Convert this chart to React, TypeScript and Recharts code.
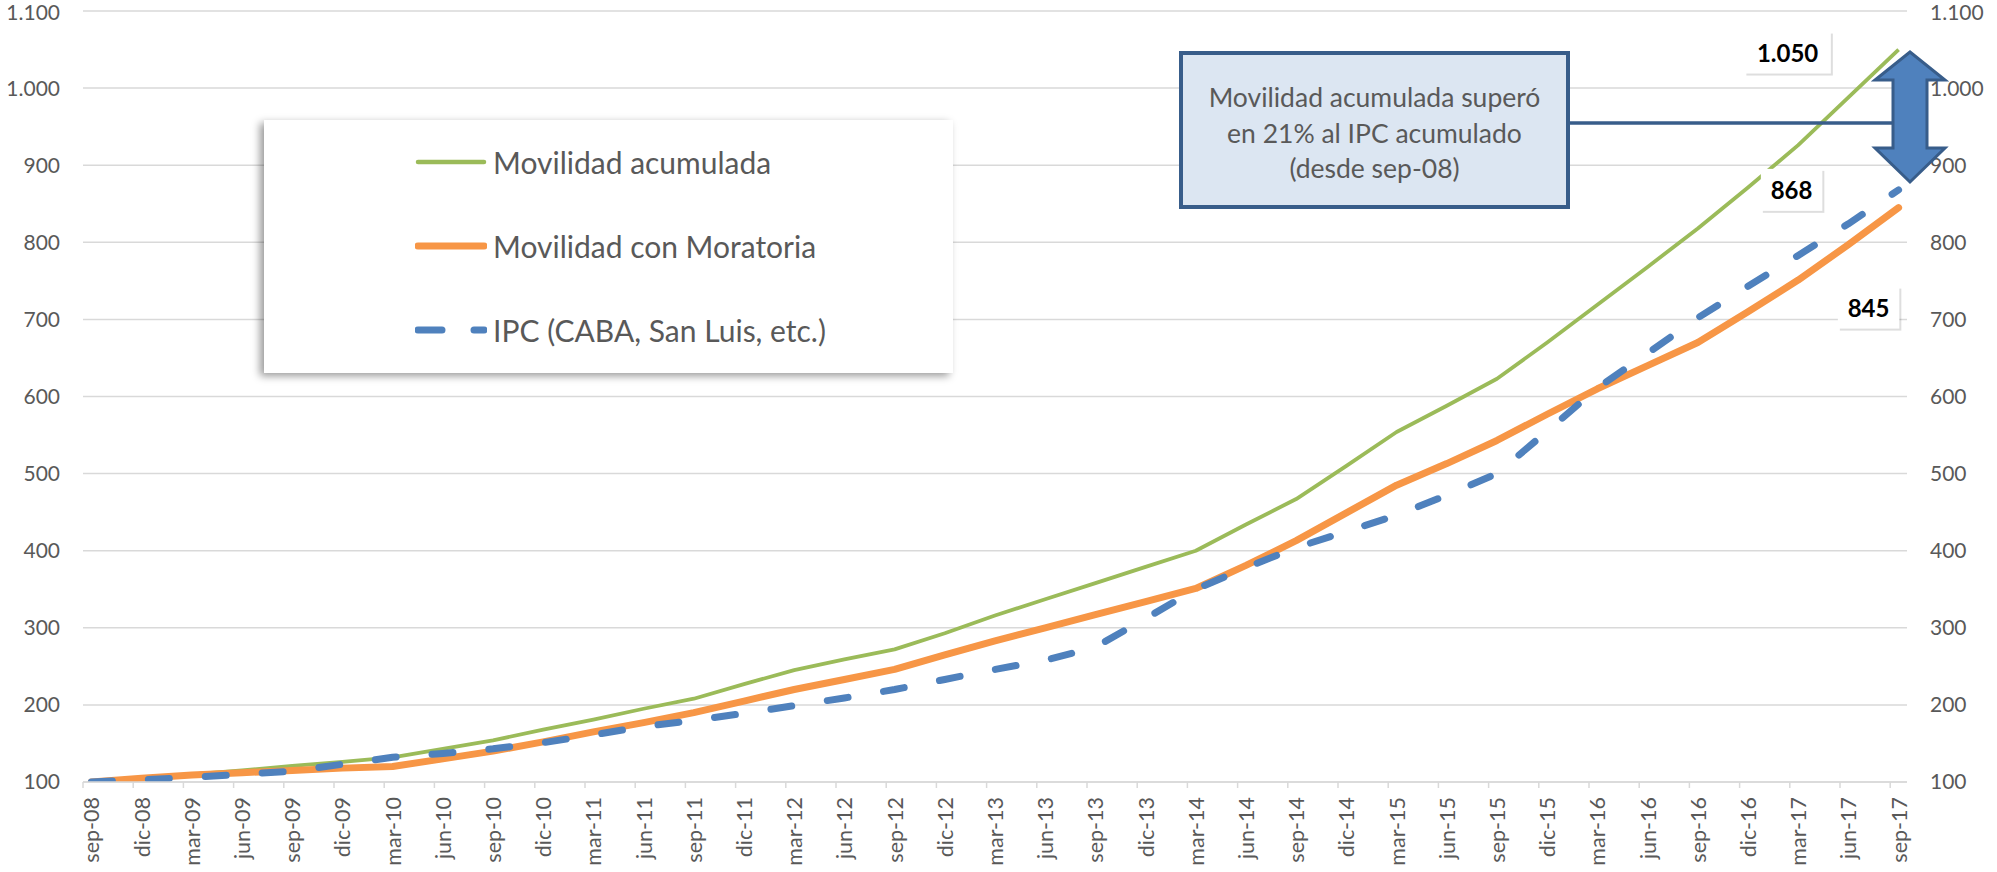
import React from 'react';
import { LineChart, Line, XAxis, YAxis, CartesianGrid, Legend, LabelList } from 'recharts';

// trimestres (eje X)
const MESES = [
  'sep-08', 'dic-08', 'mar-09', 'jun-09', 'sep-09', 'dic-09', 'mar-10', 'jun-10', 'sep-10', 'dic-10',
  'mar-11', 'jun-11', 'sep-11', 'dic-11', 'mar-12', 'jun-12', 'sep-12', 'dic-12', 'mar-13', 'jun-13',
  'sep-13', 'dic-13', 'mar-14', 'jun-14', 'sep-14', 'dic-14', 'mar-15', 'jun-15', 'sep-15', 'dic-15',
  'mar-16', 'jun-16', 'sep-16', 'dic-16', 'mar-17', 'jun-17', 'sep-17',
];

const MOVILIDAD = [
  100, 105, 110, 115, 121, 126, 132, 143, 154, 168,
  181, 195, 208, 227, 245, 259, 272, 293, 316, 337,
  358, 379, 400, 434, 467, 510, 554, 588, 623, 670,
  719, 768, 818, 871, 926, 988, 1050,
];

const MORATORIA = [
  100, 105, 109, 112, 115, 118, 120, 130, 140, 152,
  165, 177, 190, 205, 220, 233, 246, 265, 283, 300,
  317, 334, 351, 381, 413, 449, 485, 513, 543, 577,
  610, 640, 670, 710, 751, 797, 845,
];

const IPC = [
  100, 103, 106, 110, 114, 123, 132, 137, 143, 151,
  161, 172, 180, 189, 199, 209, 220, 233, 246, 258,
  275, 312, 350, 378, 404, 425, 446, 472, 500, 555,
  611, 656, 702, 743, 783, 824, 868,
];

const Y_TICKS = [100, 200, 300, 400, 500, 600, 700, 800, 900, 1000, 1100];

const SERIES = [
  { key: 'movilidad', name: 'Movilidad acumulada', color: '#9BBB59', width: 3.8, dash: undefined, legendWidth: 4.5, legendDash: undefined },
  { key: 'moratoria', name: 'Movilidad con Moratoria', color: '#F79646', width: 7, dash: undefined, legendWidth: 7, legendDash: undefined },
  { key: 'ipc', name: 'IPC (CABA, San Luis, etc.)', color: '#4F81BD', width: 7, dash: '21 36', legendWidth: 7, legendDash: '24 32' },
];

const data = MESES.map((mes, i) => ({
  mes,
  movilidad: MOVILIDAD[i],
  moratoria: MORATORIA[i],
  ipc: IPC[i],
}));

const FONT = 'Lato, "Open Sans", sans-serif';
const GREY = '#595959';
const GRID = '#D9D9D9';
const HALF_CAT = 8.4;

const fmt = (v: number) =>
  v >= 1000 ? `${Math.floor(v / 1000)}.${String(v % 1000).padStart(3, '0')}` : `${v}`;

const MonthTick = (props: any) => {
  const { x, y, payload } = props;
  const ty = y + 15;
  return (
    <g>
      <line x1={x - HALF_CAT} x2={x - HALF_CAT} y1={y} y2={y + 6} stroke={GRID} strokeWidth={1.5} />
      <text
        x={x}
        y={ty}
        transform={`rotate(-90 ${x} ${ty})`}
        textAnchor="end"
        dominantBaseline="central"
        fontSize={21.5}
        fontFamily={FONT}
        fill={GREY}
      >
        {payload.value}
      </text>
    </g>
  );
};

const endLabel = (dx: number, dy: number, last: number) => (props: any) => {
  const { x, y, value, index } = props;
  const isLast = index !== undefined ? index === data.length - 1 : value === last;
  if (!isLast || x == null) return null;
  const text = fmt(Number(value));
  const w = text.length * 12.5 + 24;
  const h = 42;
  const cx = x + dx;
  const cy = y + dy;
  return (
    <g>
      <rect x={cx - w / 2 + 2} y={cy - h / 2 + 2} width={w} height={h} fill="rgba(0,0,0,0.13)" />
      <rect x={cx - w / 2} y={cy - h / 2} width={w} height={h} fill="#fff" />
      <text x={cx} y={cy} textAnchor="middle" dominantBaseline="central" fontSize={24} fontWeight={700} fontFamily={FONT} fill="#000">
        {text}
      </text>
    </g>
  );
};

const LegendBox = () => (
  <div style={{ position: 'relative', width: 689, height: 253, background: '#fff', boxShadow: '-4px 3px 8px rgba(0,0,0,0.4)' }}>
    {SERIES.map((s, i) => (
      <div
        key={s.key}
        style={{ position: 'absolute', left: 151, top: 42 + i * 84 - 20, height: 40, display: 'flex', alignItems: 'center' }}
      >
        <svg width={72} height={12}>
          <line x1={3} x2={69} y1={6} y2={6} stroke={s.color} strokeWidth={s.legendWidth} strokeLinecap="round" strokeDasharray={s.legendDash} />
        </svg>
        <span style={{ marginLeft: 6, fontSize: 30, color: GREY, fontFamily: FONT, lineHeight: '40px', whiteSpace: 'nowrap' }}>
          {s.name}
        </span>
      </div>
    ))}
  </div>
);

const Annotation = () => (
  <svg width={1997} height={872} style={{ position: 'absolute', left: 0, top: 0, pointerEvents: 'none' }}>
    <rect x={1181} y={53} width={387} height={154} fill="#DCE6F2" stroke="#385D8A" strokeWidth={4} />
    {['Movilidad acumulada superó', 'en 21% al IPC acumulado', '(desde sep-08)'].map((t, i) => (
      <text key={i} x={1374.5} y={97 + i * 35.5} textAnchor="middle" dominantBaseline="central" fontSize={26.5} fontFamily={FONT} fill={GREY}>
        {t}
      </text>
    ))}
    <line x1={1570} x2={1892} y1={123} y2={123} stroke="#385D8A" strokeWidth={3.5} />
    <polygon
      points="1910,52 1945,80 1927,80 1927,148 1945,148 1910,182 1875,148 1893,148 1893,80 1875,80"
      fill="#4F81BD"
      stroke="#385D8A"
      strokeWidth={3}
      strokeLinejoin="miter"
    />
  </svg>
);

export default function App() {
  return (
    <div style={{ position: 'absolute', left: 0, top: 0, width: 1997, height: 872, background: '#fff', fontFamily: FONT }}>
      <LineChart width={1997} height={872} data={data} margin={{ top: 11, right: 20, bottom: 10, left: 13 }}>
        <CartesianGrid yAxisId="l" vertical={false} stroke={GRID} strokeWidth={1.5} />
        <XAxis
          dataKey="mes"
          interval={0}
          padding={{ left: HALF_CAT, right: HALF_CAT }}
          height={80}
          axisLine={{ stroke: GRID, strokeWidth: 1.5 }}
          tickLine={false}
          tickSize={0}
          tickMargin={0}
          tick={<MonthTick />}
        />
        <YAxis
          yAxisId="l"
          orientation="left"
          width={70}
          domain={[100, 1100]}
          ticks={Y_TICKS}
          tickFormatter={fmt}
          axisLine={false}
          tickLine={false}
          tickSize={0}
          tickMargin={23}
          tick={{ fill: GREY, fontSize: 21, fontFamily: FONT }}
          allowDataOverflow
        />
        <YAxis
          yAxisId="r"
          orientation="right"
          width={70}
          domain={[100, 1100]}
          ticks={Y_TICKS}
          tickFormatter={fmt}
          axisLine={false}
          tickLine={false}
          tickSize={0}
          tickMargin={23}
          tick={{ fill: GREY, fontSize: 21, fontFamily: FONT }}
          allowDataOverflow
        />
        <Legend
          layout="vertical"
          align="center"
          verticalAlign="middle"
          content={<LegendBox />}
          wrapperStyle={{ left: 264, top: 120, width: 689, height: 253 }}
        />
        <Line
          yAxisId="l"
          dataKey="movilidad"
          name={SERIES[0].name}
          stroke={SERIES[0].color}
          strokeWidth={SERIES[0].width}
          dot={false}
          type="linear"
          strokeLinejoin="round"
          isAnimationActive={false}
        >
          <LabelList dataKey="movilidad" content={endLabel(-111, 3, MOVILIDAD[MOVILIDAD.length - 1])} />
        </Line>
        <Line
          yAxisId="l"
          dataKey="moratoria"
          name={SERIES[1].name}
          stroke={SERIES[1].color}
          strokeWidth={SERIES[1].width}
          dot={false}
          type="linear"
          strokeLinecap="round"
          strokeLinejoin="round"
          isAnimationActive={false}
        >
          <LabelList dataKey="moratoria" content={endLabel(-30, 100, MORATORIA[MORATORIA.length - 1])} />
        </Line>
        <Line
          yAxisId="l"
          dataKey="ipc"
          name={SERIES[2].name}
          stroke={SERIES[2].color}
          strokeWidth={SERIES[2].width}
          strokeDasharray={SERIES[2].dash}
          strokeLinecap="round"
          strokeLinejoin="round"
          dot={false}
          type="linear"
          isAnimationActive={false}
        >
          <LabelList dataKey="ipc" content={endLabel(-107, 0, IPC[IPC.length - 1])} />
        </Line>
      </LineChart>
      <Annotation />
    </div>
  );
}
